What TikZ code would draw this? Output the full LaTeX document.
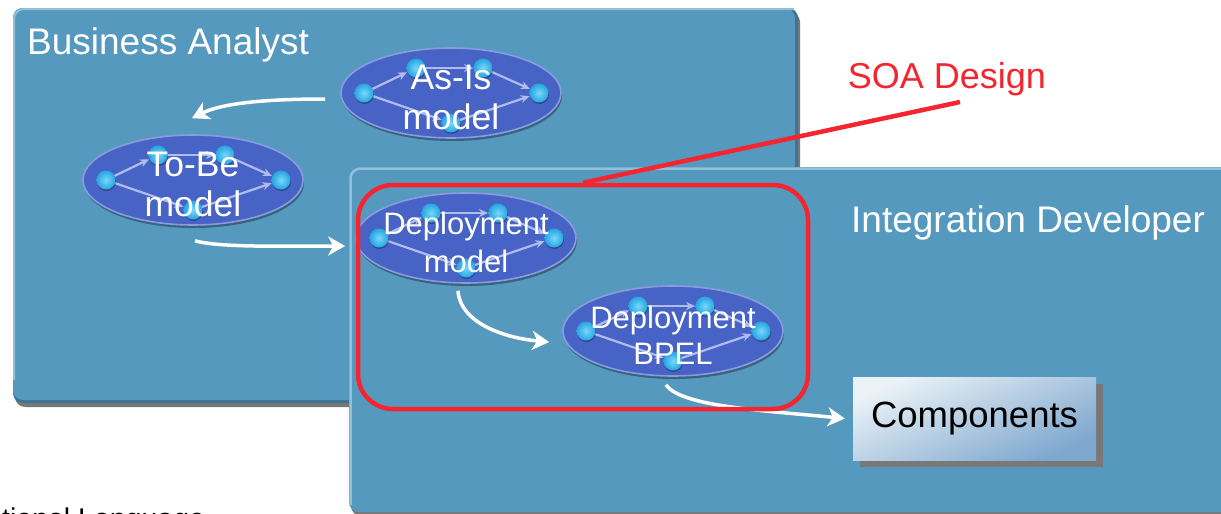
\documentclass[tikz,border=0pt]{standalone}
\usepackage{fontspec}
\setmainfont{Liberation Sans}
\usetikzlibrary{calc,shapes.geometric,arrows.meta,shadows}

\definecolor{panel}{RGB}{85,153,191}
\definecolor{panellight}{RGB}{147,191,217}
\definecolor{paneldark}{RGB}{62,115,148}
\definecolor{shadowgrey}{RGB}{120,120,120}
\definecolor{bubblefill}{RGB}{72,99,198}
\definecolor{bubblerim}{RGB}{138,155,224}
\definecolor{ballblue}{RGB}{38,165,225}
\definecolor{balllight}{RGB}{120,215,250}
\definecolor{innerarrow}{RGB}{175,188,238}
\definecolor{soared}{RGB}{245,37,48}
\definecolor{comptop}{RGB}{234,242,247}
\definecolor{compbottom}{RGB}{126,167,206}

\tikzset{
  bubble/.style={ellipse, fill=bubblefill, draw=bubblerim, line width=1.6pt,
    minimum width=220pt, minimum height=90pt, inner sep=0pt,
    drop shadow={shadow xshift=1pt, shadow yshift=-3pt, fill=black, opacity=0.35}},
  ball/.style={circle, minimum size=19pt, inner sep=0pt, shading=radial,
    inner color=balllight, outer color=ballblue,
    drop shadow={shadow xshift=0.5pt, shadow yshift=-1.5pt, fill=black, opacity=0.3}},
  inner/.style={draw=innerarrow, line width=2.2pt, -{Stealth[length=9pt,width=8pt]},
    shorten <=9pt, shorten >=10pt},
  bubbletext/.style={text=white, align=center, inner sep=0pt},
  title/.style={text=white, font=\fontsize{37}{44}\selectfont, inner sep=0pt},
  flow/.style={draw=white, line width=3.5pt, -{Stealth[length=17pt,width=19pt,inset=5pt]}},
}

% ellipse with its little process graph: name, x, y, label, font
\newcommand\mkbubble[5]{%
  \node[bubble] (#1) at (#2,#3) {};
  \coordinate (#1-l)  at ($(#1)+(-87,0)$);
  \coordinate (#1-tl) at ($(#1)+(-35,-25)$);
  \coordinate (#1-tr) at ($(#1)+(32,-25)$);
  \coordinate (#1-r)  at ($(#1)+(88,0)$);
  \coordinate (#1-b)  at ($(#1)+(0,30)$);
  \draw[inner] (#1-l) -- (#1-tl);
  \draw[inner] (#1-tl) -- (#1-tr);
  \draw[inner] (#1-tr) -- (#1-r);
  \draw[inner] (#1-l) -- (#1-b);
  \draw[inner] (#1-b) -- (#1-r);
  \foreach \p in {l,tl,tr,r,b} {\node[ball] (#1-ball-\p) at (#1-\p) {};}
  \node[bubbletext, font=#5] (#1-txt) at ($(#1)+(0,4)$) {#4};
}

\begin{document}
\begin{tikzpicture}[x=1pt,y=-1pt]
\clip (0,0) rectangle (1221,514);
\useasboundingbox (0,0) rectangle (1221,514);

% Business Analyst panel
\fill[shadowgrey, rounded corners=10pt] (15,12) rectangle (800,407);
\fill[paneldark, rounded corners=10pt] (13,8) rectangle (798,403);
\fill[panel, rounded corners=10pt] (13,8) rectangle (795,400);
\draw[panellight, line width=2pt, rounded corners=10pt] (14,380) -- (14,9) -- (794,9);
\node[title, anchor=base west] (ba) at (27,54) {Business Analyst};

% Integration Developer panel
\fill[shadowgrey, rounded corners=10pt] (351,171) rectangle (1240,516);
\fill[panel, rounded corners=10pt] (349,167) rectangle (1236,512);
\draw[panellight, line width=2.5pt, rounded corners=10pt] (350.5,505) -- (350.5,168.5) -- (1230,168.5);
\node[title, anchor=base west] (idev) at (851,232) {Integration Developer};

% process models
\mkbubble{asis}{451}{93}{As-Is\\model}{\fontsize{35.5}{40}\selectfont}
\mkbubble{tobe}{193}{180}{To-Be\\model}{\fontsize{35.5}{40}\selectfont}
\mkbubble{dep}{466}{238}{Deployment\\model}{\fontsize{31}{38}\selectfont}
\mkbubble{bpel}{673}{331}{Deployment\\BPEL}{\fontsize{31}{36}\selectfont}

% Components box
\fill[shadowgrey] (860,384) rectangle (1103,467);
\node[rectangle, minimum width=243pt, minimum height=83pt, inner sep=0pt,
  top color=comptop, bottom color=compbottom, shading angle=25,
  font=\fontsize{36.5}{43}\selectfont, text=black] (comp) at (974.5,418.5) {Components};

% flow between the models
\draw[flow] ($(asis.west)+(-15,6)$) .. controls +(-60,0) and +(30,-15) .. ($(tobe.north)+(-1,-16)$);
\draw[flow] ($(tobe.south)+(2,15)$) .. controls +(25,7) and +(-60,0) .. ($(dep.west)+(-10,8)$);
\draw[flow] ($(dep.south)+(-8,7)$) .. controls +(2,32) and +(-45,-4) .. ($(bpel.west)+(-13,11)$);
\draw[flow] ($(bpel.south)+(-7,8)$) .. controls +(15,22) and +(-80,-8) .. ($(comp.west)+(-8,0)$);

% SOA design highlight
\node[draw=soared, line width=4.5pt, rounded corners=35pt, minimum width=450pt,
  minimum height=224pt, inner sep=0pt] (soa) at (583,297) {};
\node[text=soared, font=\fontsize{36}{43}\selectfont, inner sep=0pt, anchor=base] (soalabel) at (947,88) {SOA Design};
\coordinate (soatip) at (960,102);
\draw[soared, line width=4.5pt] (soa.north) -- (soatip);

% text running off the bottom edge
\node[anchor=base west, inner sep=0pt, font=\fontsize{28.5}{34}\selectfont, text=black] (lang) at (2,528) {tional Language};
\end{tikzpicture}
\end{document}
